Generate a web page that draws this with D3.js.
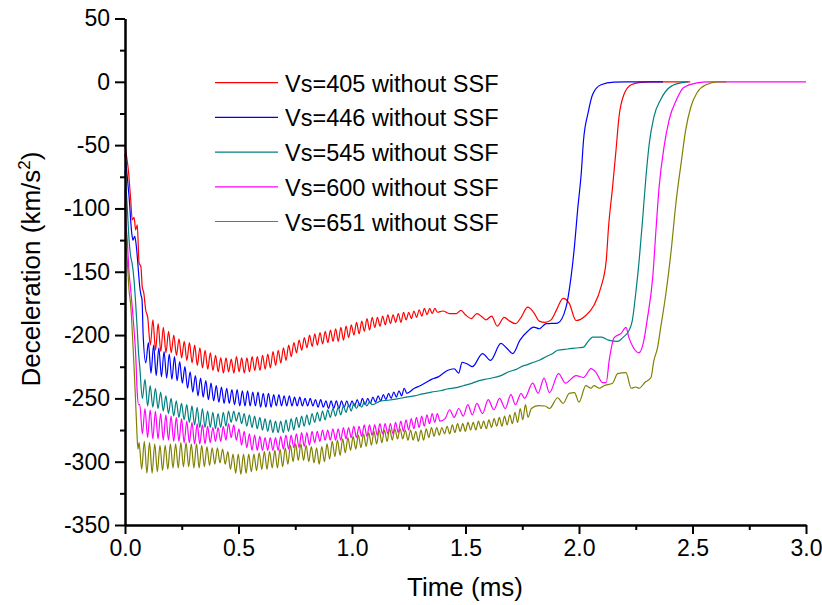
<!DOCTYPE html>
<html><head><meta charset="utf-8">
<script src="https://cdn.jsdelivr.net/npm/d3@7"></script>
<style>body{margin:0;background:#fff;} text{font-family:"Liberation Sans",Arial,sans-serif;fill:#000;}</style>
</head><body><svg id="c" width="822" height="605"></svg>
<script>
// ---------------- data ----------------
const seriesNames = ["Vs=405 without SSF","Vs=446 without SSF","Vs=545 without SSF","Vs=600 without SSF","Vs=651 without SSF"];
const seriesColors = ["#ff0000","#0000ff","#008080","#ff00ff","#808000"];
const xTickValues = [0,0.5,1.0,1.5,2.0,2.5,3.0];
const xMinorTicks = [0.25,0.75,1.25,1.75,2.25,2.75];
const yTickValues = [50,0,-50,-100,-150,-200,-250,-300,-350];
const yMinorTicks = [25,-25,-75,-125,-175,-225,-275,-325];
const waveStep = 0.0115; // ms between successive oscillation samples

// Vs=405
const redHead = [[0,-50],[0.008,-60],[0.015,-70],[0.025,-93],[0.032,-109],[0.04,-107],[0.047,-117],[0.054,-113],[0.062,-143],[0.07,-146],[0.076,-162],[0.083,-167],[0.091,-180]];
const redWaveStart = 0.100;
const redWave = [-186,-208,-188,-212,-191,-213,-194,-214,-197,-214,-200,-216,-203,-218,-205,-220,-206,-222,-208,-224,-210,-226,-212,-227,-214,-228,-216,-229,-218,-230,-218,-229,-219,-230,-217,-229,-218,-230,-218,-229,-217,-228,-217,-228,-216,-227,-215,-226,-213,-224,-212,-222,-210,-220,-208,-217,-206,-214,-204,-212,-202,-210,-200,-209,-199,-208,-198,-207,-197,-206,-196,-205,-195,-205,-194,-204,-193,-202,-192,-200,-190,-199,-189,-197,-187,-196,-186,-194,-186,-193,-185,-192,-184,-191,-184,-190,-183,-190,-182,-188,-182,-187,-181,-186,-180,-185,-179,-184,-179,-183,-179,-182];
const redTail = [[1.40,-181],[1.43,-183],[1.46,-183],[1.48,-180.5],[1.50,-184],[1.525,-187],[1.55,-183],[1.575,-186],[1.59,-188],[1.615,-185],[1.64,-193],[1.67,-186],[1.695,-189],[1.72,-191],[1.745,-186],[1.774,-178],[1.80,-182],[1.825,-189],[1.85,-190],[1.877,-188],[1.90,-180.5],[1.93,-171],[1.957,-175],[1.987,-188.5],[2.03,-184.5],[2.066,-176.5],[2.097,-162],[2.12,-141],[2.13,-115],[2.148,-83],[2.163,-54],[2.176,-28],[2.198,-10],[2.23,-2.3],[2.27,-0.5],[2.32,0],[2.49,0]];

// Vs=446
const blueHead = [[0,-57],[0.01,-75],[0.018,-91],[0.03,-120],[0.035,-125],[0.043,-122],[0.05,-130],[0.059,-149],[0.065,-162],[0.07,-168],[0.075,-172]];
const blueWaveStart = 0.080;
const blueWave = [-200,-222,-206,-230,-208,-232,-210,-233,-213,-234,-215,-235,-217,-236,-221,-238,-225,-242,-229,-245,-232,-248,-234,-249,-236,-251,-238,-252,-240,-253,-241,-254,-242,-254,-243,-255,-243,-256,-244,-256,-244,-256,-245,-256,-245,-257,-246,-257,-246,-257,-247,-256,-247,-256,-248,-256,-248,-256,-249,-256,-249,-256,-250,-256,-250,-256,-251,-257,-251,-257,-252,-258,-252,-258,-252,-258,-252,-257,-252,-257,-252,-256,-251,-256,-250,-255,-250,-254,-249,-253,-248,-252,-247,-251,-246,-250,-245,-249,-244,-248,-242,-246];
const blueTail = [[1.275,-242],[1.30,-240],[1.33,-237],[1.35,-235],[1.38,-233],[1.42,-228],[1.45,-226.6],[1.47,-230],[1.485,-221.5],[1.51,-223],[1.53,-225],[1.575,-214.6],[1.61,-220],[1.656,-206.6],[1.68,-210],[1.708,-214.6],[1.74,-204],[1.774,-197],[1.80,-193.7],[1.825,-195],[1.855,-191],[1.906,-190.5],[1.943,-178],[1.965,-154],[1.98,-130],[1.994,-101],[2.01,-72],[2.02,-46],[2.04,-24.5],[2.06,-10],[2.097,-2.3],[2.155,-0.2],[2.2,0],[2.37,0]];

// Vs=545
const tealHead = [[0,-70],[0.01,-99],[0.018,-125],[0.025,-138],[0.031,-143],[0.04,-157],[0.047,-175],[0.054,-196],[0.06,-215]];
const tealWaveStart = 0.065;
const tealWave = [-225,-250,-235,-256,-240,-257,-242,-258,-245,-260,-248,-262,-250,-264,-252,-265,-254,-267,-255,-269,-256,-271,-257,-273,-258,-273,-260,-273,-261,-274,-262,-273,-261,-272,-260,-269,-260,-268,-261,-270,-262,-272,-263,-273,-264,-274,-265,-275,-266,-276,-267,-277,-268,-277,-268,-277,-267,-276,-266,-275,-265,-273,-264,-272,-263,-271,-262,-269,-261,-268,-260,-267,-259,-265,-258,-264,-257,-263,-256,-261,-255,-260,-254,-258,-254,-257,-253,-256,-253,-255];
const tealTail = [[1.128,-252],[1.16,-251.5],[1.2,-250.4],[1.24,-249],[1.275,-248],[1.31,-246.5],[1.35,-245],[1.39,-244],[1.42,-242.6],[1.46,-241.5],[1.49,-240],[1.52,-238.5],[1.56,-236],[1.6,-234.5],[1.656,-232],[1.69,-229],[1.73,-226.6],[1.745,-225],[1.77,-223.5],[1.8,-221.5],[1.83,-219.5],[1.85,-217.5],[1.88,-215],[1.906,-212],[1.95,-211],[2.0,-210],[2.02,-209.5],[2.04,-205],[2.06,-201.6],[2.10,-201.6],[2.13,-204],[2.17,-205],[2.195,-201.6],[2.22,-196.5],[2.235,-188.4],[2.25,-167],[2.265,-141],[2.28,-109],[2.295,-75],[2.31,-48],[2.33,-27.6],[2.36,-14],[2.405,-3.6],[2.46,-0.5],[2.48,0]];

// Vs=600
const magentaHead = [[0,-85],[0.003,-106],[0.01,-125],[0.018,-151],[0.024,-162],[0.032,-178],[0.04,-196],[0.047,-215],[0.054,-246],[0.06,-255]];
const magentaWaveStart = 0.065;
const magentaWave = [-255,-278,-258,-281,-259,-282,-260,-282,-262,-283,-263,-283,-264,-284,-265,-284,-266,-285,-268,-285,-269,-286,-270,-286,-271,-286,-272,-285,-273,-284,-273,-284,-272,-283,-270,-281,-271,-283,-274,-287,-276,-289,-278,-291,-279,-291,-280,-291,-281,-291,-281,-291,-281,-291,-280,-290,-279,-290,-279,-289,-278,-289,-277,-288,-277,-287,-276,-285,-276,-284,-275,-283,-275,-283,-274,-283,-274,-283,-273,-282,-273,-281,-272,-281,-272,-280,-271,-280,-271,-279,-271,-279,-270,-278,-270,-278,-270,-278,-269,-277,-268,-276,-267,-275,-266,-274,-265,-273,-264,-272,-263,-270,-262,-269,-262,-268];
const magentaTail = [[1.41,-266],[1.43,-259],[1.45,-265],[1.47,-258],[1.49,-264],[1.51,-255],[1.53,-263],[1.55,-254],[1.575,-262],[1.60,-251],[1.625,-259],[1.65,-250],[1.675,-258],[1.70,-247],[1.72,-255],[1.745,-246],[1.76,-250],[1.796,-238],[1.82,-246],[1.846,-234],[1.87,-245.5],[1.91,-230.4],[1.94,-238],[1.987,-232],[2.02,-233.5],[2.053,-226.5],[2.075,-229.6],[2.104,-237.5],[2.12,-237.5],[2.133,-220],[2.155,-202],[2.185,-198.7],[2.207,-194],[2.22,-202],[2.24,-210],[2.264,-214],[2.286,-204],[2.30,-188.4],[2.325,-154],[2.34,-114.7],[2.353,-83],[2.375,-51],[2.397,-30],[2.43,-14],[2.46,-4.7],[2.52,-0.8],[2.57,0],[3.0,0]];

// Vs=651
const oliveHead = [[0,-96],[0.004,-125],[0.01,-141],[0.018,-165],[0.025,-176],[0.03,-190],[0.037,-215],[0.045,-245],[0.052,-275],[0.057,-290]];
const oliveWaveStart = 0.062;
const oliveWave = [-285,-306,-284,-309,-285,-309,-286,-308,-287,-307,-287,-306,-286,-305,-286,-305,-285,-304,-285,-304,-286,-305,-286,-305,-287,-304,-288,-303,-289,-302,-289,-301,-290,-302,-292,-306,-294,-309,-294,-310,-294,-309,-294,-308,-294,-307,-293,-306,-292,-306,-292,-305,-291,-305,-290,-304,-289,-302,-287,-300,-286,-299,-286,-299,-287,-300,-288,-301,-289,-302,-288,-300,-286,-298,-284,-296,-283,-295,-282,-293,-281,-291,-280,-290,-279,-289,-278,-288,-277,-287,-276,-286,-275,-285,-275,-284,-274,-283,-274,-282,-274,-282,-275,-283,-275,-283,-276,-284,-275,-283,-274,-281,-273,-280,-273,-279,-273,-278,-272,-278,-271,-277,-270,-276,-270,-276,-269,-275,-269,-275,-268,-274,-268,-274,-267,-273,-266,-272,-265,-272,-264,-271,-263,-270,-261,-269,-258,-267,-255,-265];
const oliveTail = [[1.79,-258],[1.82,-255.7],[1.85,-256],[1.87,-258],[1.906,-249.5],[1.93,-254],[1.957,-246],[1.98,-245.5],[2.0,-253],[2.03,-240],[2.053,-242],[2.066,-240],[2.09,-242],[2.11,-240],[2.148,-238],[2.17,-230.4],[2.207,-229.6],[2.23,-242],[2.25,-241],[2.265,-242],[2.29,-237.5],[2.317,-233.5],[2.33,-220],[2.346,-210],[2.36,-194],[2.383,-167],[2.405,-135],[2.427,-95.7],[2.45,-64],[2.47,-38],[2.493,-19.7],[2.52,-8.6],[2.56,-2.3],[2.61,0],[2.65,0]];

// ---------------- build ----------------
function build(head, start, wave, tail){
  return head.concat(wave.map((v,i)=>[start+i*waveStep, v]), tail);
}
const allSeries = [
  build(redHead, redWaveStart, redWave, redTail),
  build(blueHead, blueWaveStart, blueWave, blueTail),
  build(tealHead, tealWaveStart, tealWave, tealTail),
  build(magentaHead, magentaWaveStart, magentaWave, magentaTail),
  build(oliveHead, oliveWaveStart, oliveWave, oliveTail)
];

const svg = d3.select("#c");
const x = d3.scaleLinear().domain([0,3]).range([125,806]);
const y = d3.scaleLinear().domain([-350,50]).range([525,18.5]);

// lines
const line = d3.line().x(d=>x(d[0])).y(d=>y(d[1])).curve(d3.curveMonotoneX);
svg.append("g").selectAll("path").data(allSeries).join("path")
  .attr("d", line).attr("fill","none")
  .attr("stroke",(d,i)=>seriesColors[i]).attr("stroke-width",1.2)
  .attr("stroke-linejoin","round");

// axes
function styleAxis(g, fs){
  g.select(".domain").attr("stroke","#000").attr("stroke-width",2);
  g.selectAll(".tick line").attr("stroke","#000").attr("stroke-width",2);
  g.selectAll(".tick text").style("font-size",fs+"px").attr("fill","#000");
}
const xAxis = svg.append("g").attr("transform","translate(0,525)")
  .call(d3.axisBottom(x).tickValues(xTickValues).tickFormat(d=>d.toFixed(1)).tickSize(9).tickSizeOuter(0).tickPadding(6));
styleAxis(xAxis, 23);
const xMinor = svg.append("g").attr("transform","translate(0,525)")
  .call(d3.axisBottom(x).tickValues(xMinorTicks).tickFormat("").tickSize(5).tickSizeOuter(0));
styleAxis(xMinor, 23);
const yAxis = svg.append("g").attr("transform","translate(125,0)")
  .call(d3.axisLeft(y).tickValues(yTickValues).tickFormat(d=>String(d)).tickSize(10).tickSizeOuter(0).tickPadding(5));
styleAxis(yAxis, 23);
const yMinor = svg.append("g").attr("transform","translate(125,0)")
  .call(d3.axisLeft(y).tickValues(yMinorTicks).tickFormat("").tickSize(5).tickSizeOuter(0));
styleAxis(yMinor, 23);

// axis titles
svg.append("text").attr("x",465).attr("y",596).attr("text-anchor","middle")
  .style("font-size","26px").text("Time (ms)");
const yt = svg.append("text").attr("transform","translate(40,269) rotate(-90)")
  .attr("text-anchor","middle").style("font-size","26px");
yt.append("tspan").text("Deceleration (km/s");
yt.append("tspan").attr("dy",-10).style("font-size","17px").text("2");
yt.append("tspan").attr("dy",10).text(")");

// legend
const lg = svg.append("g");
seriesNames.forEach((n,i)=>{
  const yy = 82.7 + i*34.7;
  lg.append("line").attr("x1",215).attr("x2",278).attr("y1",yy).attr("y2",yy)
    .attr("stroke",seriesColors[i]).attr("stroke-width",1.2);
  lg.append("text").attr("x",285).attr("y",yy+9).style("font-size","23.5px").text(n);
});
</script></body></html>
